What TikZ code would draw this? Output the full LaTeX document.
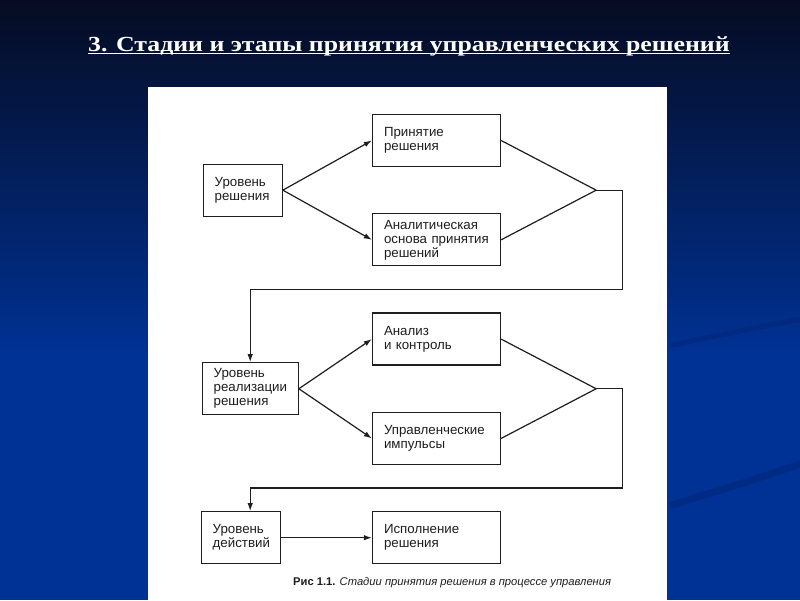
\documentclass[tikz,border=0pt]{standalone}
\usepackage{fontspec}
\setmainfont{Liberation Serif}
\setsansfont{Liberation Sans}
\newfontfamily\titlefont[FakeStretch=1.2]{Liberation Serif}
\usetikzlibrary{arrows.meta,positioning,calc}

\definecolor{navytop}{RGB}{6,12,34}
\definecolor{slideblue}{RGB}{0,50,150}
\definecolor{swoosh}{RGB}{0,34,112}
\definecolor{linegray}{RGB}{30,30,30}

\begin{document}
\begin{tikzpicture}[
  x=1pt, y=-1pt,
  font=\sffamily,
  box/.style={rectangle, draw=linegray, line width=1.3pt, align=left, text width=#1, inner xsep=11.5pt, minimum height=52pt, text=linegray, font=\sffamily\fontsize{13.3}{14}\selectfont},
  box/.default=105pt,
  line/.style={draw=linegray, line width=1.2pt},
  arr/.style={line, -{Latex[length=8pt,width=5.5pt]}}
]
\useasboundingbox (0,0) rectangle (800,600);

% slide background
\fill[top color=navytop, bottom color=slideblue] (0,0) rectangle (800,360);
\fill[slideblue] (0,359) rectangle (800,600);
\draw[swoosh, line width=7pt, line cap=round, opacity=.45] (672,505) .. controls (720,490) and (770,475) .. (805,462);
\draw[swoosh, line width=5pt, line cap=round, opacity=.4] (672,345) .. controls (720,335) and (770,325) .. (805,318);
\fill[white] (148,87) rectangle (667,600);

\node[anchor=base west, inner sep=0pt, text=white, font=\titlefont\bfseries\fontsize{21.5}{24}\selectfont] (title) at (88,51) {3. Стадии и этапы принятия управленческих решений};
\draw[white, line width=1.2pt] ([yshift=-2.5pt]title.base west) -- ([yshift=-2.5pt]title.base east);

% right column
\node[box] (dec) at (436.5,140.5) {Принятие\\решения};
\node[box, below=46pt of dec] (basis) {Аналитическая\\основа принятия\\решений};
\node[box, below=46pt of basis] (ctrl) {Анализ\\и контроль};
\node[box, below=46pt of ctrl] (impulse) {Управленческие\\импульсы};
\node[box, below=46pt of impulse] (exec) {Исполнение\\решения};

% left column
\coordinate (gapA) at ($(dec.south west)!.5!(basis.north west)$);
\coordinate (gapB) at ($(ctrl.south west)!.5!(impulse.north west)$);
\node[box=56pt, left=89pt of gapA] (lvldec) {Уровень\\решения};
\node[box=73pt, left=73pt of gapB] (lvlreal) {Уровень\\реализации\\решения};
\node[box=56pt, left=91pt of exec] (lvlact) {Уровень\\действий};

\node[anchor=base west, inner sep=0pt, text=linegray, font=\sffamily\fontsize{11.2}{13}\selectfont] (caption) at (293,585) {\textbf{Рис 1.1.} \textit{Стадии принятия решения в процессе управления}};

% stage 1
\draw[arr] (lvldec.east) -- (dec.west);
\draw[arr] (lvldec.east) -- (basis.west);
\coordinate (joinA) at ($(dec.east)!.5!(basis.east) + (95,0)$);
\draw[line] (dec.east) -- (joinA) -- (basis.east);
\coordinate (dropA) at ($(basis.south)!.5!(ctrl.north)$);
\draw[arr] (joinA) -- ++(26,0) |- (dropA -| lvlreal.north) -- (lvlreal.north);

% stage 2
\draw[arr] (lvlreal.east) -- (ctrl.west);
\draw[arr] (lvlreal.east) -- (impulse.west);
\coordinate (joinB) at ($(ctrl.east)!.5!(impulse.east) + (95,0)$);
\draw[line] (ctrl.east) -- (joinB) -- (impulse.east);
\coordinate (dropB) at ($(impulse.south)!.5!(exec.north)$);
\draw[arr] (joinB) -- ++(26,0) |- (dropB -| lvlreal.north) -- (lvlreal.north |- lvlact.north);

% stage 3
\draw[arr] (lvlact) -- (exec);

\end{tikzpicture}
\end{document}
